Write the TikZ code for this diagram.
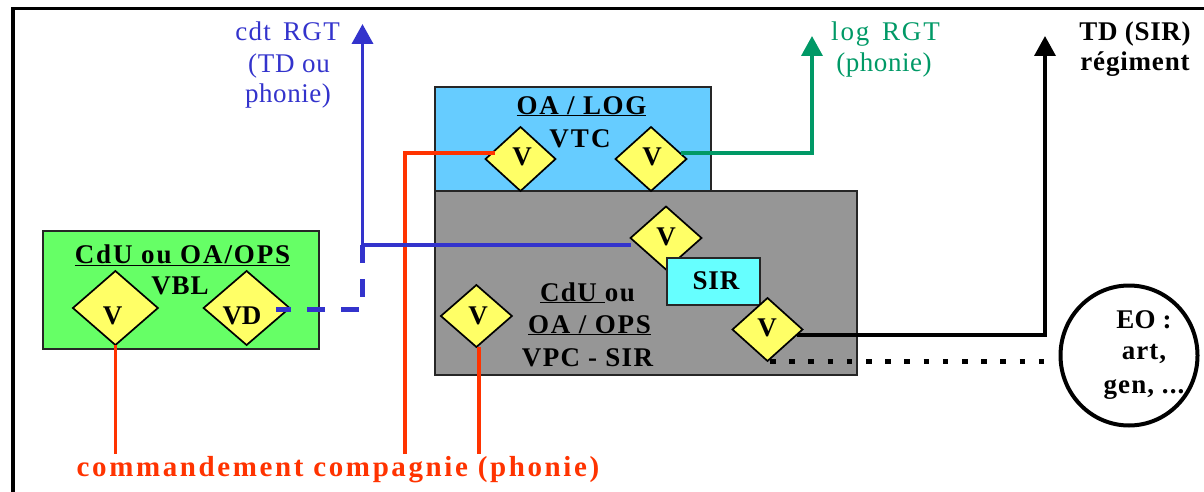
\documentclass[tikz,border=0pt]{standalone}
\usepackage{fontspec}
\setmainfont{Liberation Serif}
\usetikzlibrary{arrows.meta,shapes.geometric}
\definecolor{cblue}{HTML}{3333CC}
\definecolor{cgreen}{HTML}{009966}
\definecolor{cred}{HTML}{FF3300}
\definecolor{cyel}{HTML}{FFFF66}
\definecolor{cbox}{HTML}{66CCFF}
\definecolor{cgray}{HTML}{969696}
\definecolor{cgbox}{HTML}{66FF66}
\definecolor{csir}{HTML}{66FFFF}
\newcommand{\trk}[1]{\addfontfeature{LetterSpace=#1}}
\tikzset{
  lab/.style={anchor=base,inner sep=0pt,outer sep=0pt,font=\fontsize{27}{27}\selectfont},
  blab/.style={lab,font=\fontsize{27}{27}\selectfont\bfseries},
  vlab/.style={lab,font=\fontsize{27}{27}\selectfont\bfseries},
  area/.style={draw=black!85,line width=1.8pt,inner sep=0pt,outer sep=0pt},
  vd/.style={diamond,draw=black,line width=1.7pt,fill=cyel,inner sep=0pt,outer sep=0pt,minimum width=#1},
  link/.style={line width=3.6pt},
  tip/.style={-{Triangle[width=21pt,length=20pt]}}
}
\begin{document}
\begin{tikzpicture}[x=1pt,y=-1pt]
\useasboundingbox (0,0) rectangle (1204,492);
\draw[line width=3.2pt] (13,492) -- (13,8.7) -- (1204,8.7);
% areas
\node[area,fill=cbox,minimum width=276pt,minimum height=104pt] (log) at (573,139) {};
\node[area,fill=cgray,minimum width=422pt,minimum height=184pt] (vpc) at (646,283) {};
\node[area,fill=cgbox,minimum width=276pt,minimum height=118pt] (vbl) at (181,290) {};
% diamonds
\node[vd=70pt,minimum height=64pt] (dA) at (520.5,159) {};
\node[vd=71pt,minimum height=64pt] (dB) at (651,159) {};
\node[vd=71pt,minimum height=63pt] (dC) at (666,238) {};
\node[area,fill=csir,minimum width=93pt,minimum height=47.5pt] (sir) at (713.7,281.5) {};
\node[vd=70pt,minimum height=63pt] (dD) at (767.5,329.5) {};
\node[vd=71pt,minimum height=62pt] (dE) at (476.4,316) {};
\node[vd=85pt,minimum height=74pt] (dF) at (115.4,308) {};
\node[vd=86pt,minimum height=74pt] (dG) at (246.6,308) {};
% circle
\node[ellipse,draw=black,line width=4pt,fill=white,minimum width=137pt,minimum height=140pt,inner sep=0pt] (eo) at (1129,355.5) {};
% free ends
\coordinate (bluetop) at (362.5,24);
\coordinate (bluejoin) at (362.5,245);
\coordinate (bluecorner) at (362.5,309.5);
\coordinate (vdport) at (276,309.5);
\coordinate (dCport) at (631,245);
\coordinate (greentop) at (812,36);
\coordinate (greenknee) at (812,153);
\coordinate (dBport) at (681,153);
\coordinate (blacktop) at (1045,36);
\coordinate (blackknee) at (1045,335);
\coordinate (dDport) at (797,335);
\coordinate (dotstart) at (770,361.3);
\coordinate (dotend) at (1047,361.3);
\coordinate (redF) at (115.4,454);
\coordinate (redA) at (405,454);
\coordinate (redAknee) at (405,153);
\coordinate (dAport) at (495,153);
\coordinate (redE) at (478.8,454);
\coordinate (dEport) at (478.8,347);
% connectors
\draw[link,cred] (dF.south) -- (redF);
\draw[link,cred] (redA) -- (redAknee) -- (dAport);
\draw[link,cred] (dEport) -- (redE);
\draw[link,cblue,tip] (dCport) -- (bluejoin) -- (bluetop);
\draw[line width=5pt,cblue,dash pattern=on 18pt off 16pt] (bluejoin) -- (bluecorner) -- (vdport);
\draw[link,cgreen,tip] (dBport) -- (greenknee) -- (greentop);
\draw[link,black,tip] (dDport) -- (blackknee) -- (blacktop);
\draw[line width=5.5pt,black,dash pattern=on 5.5pt off 13.7pt] (dotstart) -- (dotend);
% diamond letters
\node[vlab] (tA) at (522,165) {V};
\node[vlab] (tB) at (652,165) {V};
\node[vlab] (tC) at (666,245) {V};
\node[vlab] (tD) at (767,336) {V};
\node[vlab] (tE) at (478,324) {V};
\node[vlab] (tF) at (112.5,324) {V};
\node[vlab] (tG) at (242,324) {VD};
% labels
\node[lab,text=cblue] (l1) at (287.5,41) {\trk{5}cdt\hspace{4pt} RGT};
\node[lab,text=cblue] (l2) at (289,73) {\trk{3}(TD ou};
\node[lab,text=cblue] (l3) at (288,103) {\trk{2}phonie)};
\node[lab,text=cgreen] (l4) at (885.5,41) {\trk{7}log\hspace{4pt} RGT};
\node[lab,text=cgreen] (l5) at (884,72) {\trk{2}(phonie)};
\node[blab] (l6) at (1135,41) {\trk{2.5}TD (SIR)};
\node[blab] (l7) at (1135,71) {\trk{3}régiment};
\node[blab] (l8) at (581.5,114) {\trk{6}\underline{OA / LOG}};
\node[blab] (l9) at (580,147) {\trk{8}VTC};
\node[blab] (l10) at (182.5,263) {\trk{7}\underline{CdU ou OA/OPS}};
\node[blab] (l11) at (180,294) {\trk{3}VBL};
\node[blab] (l12) at (587.5,301) {\trk{5}\underline{CdU }ou};
\node[blab] (l13) at (589.5,333) {\trk{6.5}\underline{OA / OPS}};
\node[blab] (l14) at (587.5,366) {\trk{5}VPC - SIR};
\node[blab] (l15) at (716,289) {\trk{3}SIR};
\node[blab] (l16) at (1144,328) {\trk{1}EO :};
\node[blab] (l17) at (1144,359) {\trk{4}art,};
\node[blab] (l18) at (1144,393) {\trk{4}gen, ...};
\node[blab,text=cred,font=\fontsize{29}{29}\selectfont\bfseries] (l19) at (338,476) {\trk{9}commandement compagnie (phonie)};
\end{tikzpicture}
\end{document}
